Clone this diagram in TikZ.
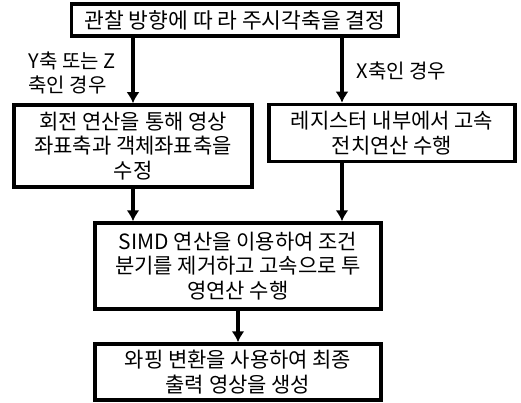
\documentclass[tikz,border=0pt]{standalone}
\usepackage{fontspec}
\setmainfont{Noto Sans CJK KR}
\usetikzlibrary{arrows.meta}

\begin{document}
\begin{tikzpicture}[x=1pt, y=-1pt,
  stepbox/.style={rectangle, draw, line width=3.5pt, inner sep=0pt,
                  align=center, font=\fontsize{21}{24.5}\selectfont},
  lbl/.style={align=left, font=\fontsize{20}{24}\selectfont},
  arr/.style={-{Latex[length=11pt,width=13pt]}, line width=3.5pt}
]
  \useasboundingbox (0,0) rectangle (521,403);

  % Top step
  \node[stepbox, minimum width=327pt, minimum height=32pt,
        font=\fontsize{21.5}{24}\selectfont] (axis) at (235,20)
    {관찰 방향에 따 라 주시각축을 결정};

  % Two branches
  \node[stepbox, minimum width=238pt, minimum height=82pt] (rot) at (133,146)
    {회전 연산을 통해 영상\\좌표축과 객체좌표축을\\수정};
  \node[stepbox, minimum width=246pt, minimum height=57pt] (reg) at (392,133)
    {레지스터 내부에서 고속\\전치연산 수행};
  \coordinate (rx) at (342,0);

  % Projection and warping
  \node[stepbox, minimum width=286pt, minimum height=86pt] (simd) at (238,266)
    {SIMD 연산을 이용하여 조건\\분기를 제거하고 고속으로 투\\영연산 수행};
  \node[stepbox, minimum width=286pt, minimum height=56pt] (warp) at (238,372)
    {와핑 변환을 사용하여 최종\\출력 영상을 생성};

  % Connectors
  \draw[arr] (rot.north |- axis.south) -- (rot.north);
  \draw[arr] (axis.south -| rx) -- (reg.north -| rx);
  \draw[arr] (rot.south) -- (rot.south |- simd.north);
  \draw[arr] (reg.south -| rx) -- (simd.north -| rx);
  \draw[arr] (simd.south) -- (warp.north);

  % Branch labels
  \node[lbl, anchor=north west] (yz) at (25,48) {Y축 또는 Z\\축인 경우};
  \node[lbl, anchor=west] (xl) at (353,71) {X축인 경우};
\end{tikzpicture}
\end{document}
